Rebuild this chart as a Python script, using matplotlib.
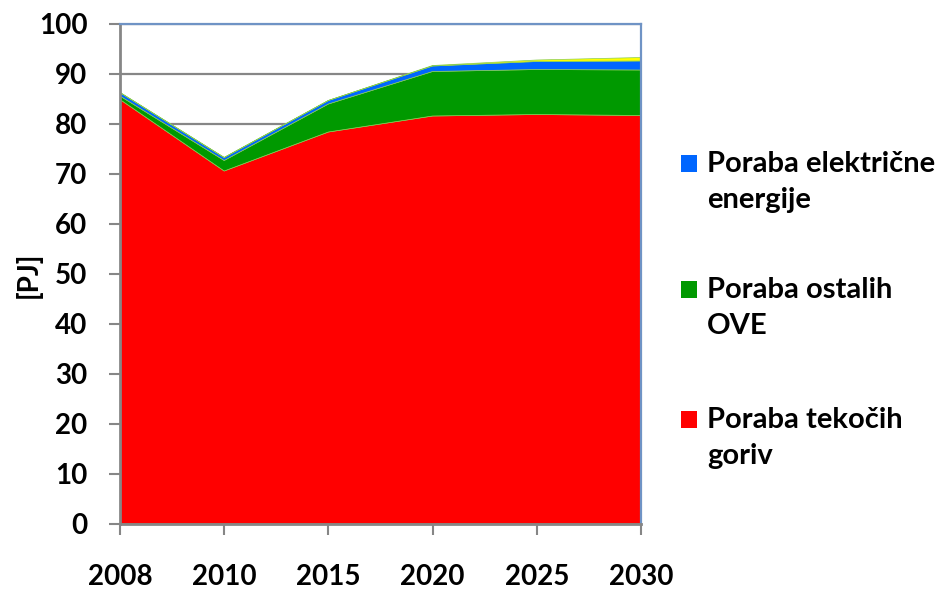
import matplotlib
matplotlib.use("Agg")
import matplotlib.pyplot as plt
from matplotlib.patches import Rectangle
import numpy as np

years = ["2008", "2010", "2015", "2020", "2025", "2030"]
liquid_fuels = [84.9, 70.6, 78.4, 81.6, 81.9, 81.7]
other_res = [0.7, 2.1, 5.6, 8.9, 9.0, 9.1]
electricity = [0.7, 0.6, 0.7, 1.1, 1.6, 1.8]
other = [0.0, 0.0, 0.0, 0.1, 0.3, 0.7]

legend_labels = ["Poraba električne\nenergije", "Poraba ostalih\nOVE", "Poraba tekočih\ngoriv"]
legend_colors = ["#0066FF", "#009900", "#FF0000"]
colors = ["#FF0000", "#009900", "#0066FF", "#FFFF00"]

plt.rcParams['font.family'] = ['Lato', 'DejaVu Sans']
plt.rcParams['font.weight'] = 'bold'

W, H = 939, 591
fig = plt.figure(figsize=(W / 100, H / 100), dpi=100)
ax = fig.add_axes([120 / W, 67 / H, 521 / W, 500 / H])

x = np.arange(len(years))
ax.stackplot(x, liquid_fuels, other_res, electricity, other,
             colors=colors, linewidth=0.5,
             edgecolors=["#88CC55", "#33AA33", "#0066FF", "#FFFF00"], zorder=3)

ax.set_xlim(0, len(years) - 1)
ax.set_ylim(0, 100)
ax.set_yticks(np.arange(0, 101, 10))
ax.set_xticks(x)
ax.set_xticklabels(years)
ax.yaxis.grid(True, color="#868686", linewidth=1.6, zorder=1)
ax.set_axisbelow(True)

for s in ["top", "right"]:
    ax.spines[s].set_color("#6F93C5")
    ax.spines[s].set_linewidth(1.6)
    ax.spines[s].set_zorder(4)
for s in ["left", "bottom"]:
    ax.spines[s].set_color("#868686")
    ax.spines[s].set_linewidth(2)
    ax.spines[s].set_zorder(4)

ax.tick_params(axis="both", direction="out", color="#868686", width=1.5, length=8)
ax.tick_params(axis="y", labelsize=20, pad=15.5)
ax.tick_params(axis="x", labelsize=20, pad=20.5)
for lab in ax.get_xticklabels() + ax.get_yticklabels():
    lab.set_fontweight("bold")

fig.text(28 / W, 1 - 275 / H, "[PJ]", rotation=90, fontsize=20, fontweight="bold",
         ha="center", va="center")

# manual legend (marker aligned with first line as in the reference)
baselines = [172, 298, 428]
line_gap = 36
for lbl, col, b in zip(legend_labels, legend_colors, baselines):
    fig.patches.append(Rectangle((681 / W, 1 - b / H), 16 / W, 17 / H,
                                 transform=fig.transFigure, facecolor=col,
                                 edgecolor="none", figure=fig))
    for i, line in enumerate(lbl.split("\n")):
        fig.text(707 / W, 1 - (b + i * line_gap) / H, line, fontsize=21,
                 fontweight="bold", ha="left", va="baseline")

fig.savefig("out.png", dpi=100)
